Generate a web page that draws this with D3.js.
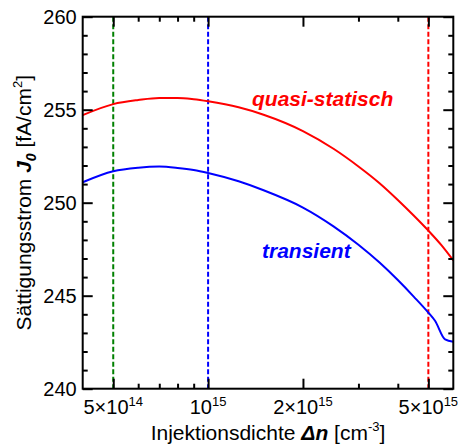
<!DOCTYPE html>
<html>
<head>
<meta charset="utf-8">
<script src="https://cdn.jsdelivr.net/npm/d3@7"></script>
<style>
  html, body { margin: 0; padding: 0; background: #fff; }
  svg { display: block; font-family: Arial, "Liberation Sans", sans-serif; }
</style>
</head>
<body>
<script>
// Injection density values (cm^-3) and saturation currents J0 (fA/cm^2)
const quasiDn = [4e14, 5e14, 6e14, 7e14, 8e14, 9e14, 1e15, 1.25e15, 1.5e15, 2e15, 2.5e15, 3e15, 3.5e15, 4e15, 4.5e15, 5e15, 5.5e15, 6e15];
const quasiJ0 = [254.71, 255.30, 255.52, 255.63, 255.63, 255.56, 255.45, 255.13, 254.73, 253.85, 252.90, 251.95, 251.05, 250.15, 249.30, 248.50, 247.72, 246.90];

const transDn = [4e14, 5e14, 6e14, 7e14, 8e14, 9e14, 1e15, 1.25e15, 1.5e15, 2e15, 2.5e15, 3e15, 3.5e15, 4e15, 4.5e15, 5e15, 5.25e15, 5.65e15, 6e15];
const transJ0 = [251.10, 251.69, 251.88, 251.94, 251.87, 251.76, 251.60, 251.15, 250.67, 249.74, 248.73, 247.74, 246.78, 245.84, 244.94, 244.09, 243.65, 242.65, 242.53];

// Marked injection levels
const markerDn = [5e14, 1e15, 5e15];
const markerColors = ["#008000", "#0000ff", "#ff0000"];

// Axis ticks
const xMajor = [5e14, 1e15, 2e15, 5e15];
const xMajorMant = ["5×10", "10", "2×10", "5×10"];
const xMajorExp = ["14", "15", "15", "15"];
const xMinor = [6e14, 7e14, 8e14, 9e14, 3e15, 4e15];
const yMajor = [240, 245, 250, 255, 260];
const yMinor = d3.range(241, 260).filter(v => v % 5 !== 0);

const W = 462, H = 447;
const m = { left: 82.7, top: 16.7, right: 8.7, bottom: 58.3 };
const iw = W - m.left - m.right, ih = H - m.top - m.bottom;

const svg = d3.select("body").append("svg").attr("width", W).attr("height", H);
const g = svg.append("g").attr("transform", `translate(${m.left},${m.top})`);

const x = d3.scaleLog().domain([4e14, 6e15]).range([0, iw]);
const y = d3.scaleLinear().domain([240, 260]).range([ih, 0]);

// Dashed vertical markers
g.selectAll("line.marker").data(markerDn).join("line")
  .attr("class", "marker")
  .attr("x1", d => x(d)).attr("x2", d => x(d))
  .attr("y1", 0).attr("y2", ih)
  .attr("stroke", (d, i) => markerColors[i])
  .attr("stroke-width", 2)
  .attr("stroke-dasharray", "5,2.5");

// Curves
const line = d3.line().x(d => x(d[0])).y(d => y(d[1])).curve(d3.curveMonotoneX);
g.append("path").datum(d3.zip(quasiDn, quasiJ0))
  .attr("d", line).attr("fill", "none").attr("stroke", "#ff0000").attr("stroke-width", 2);
g.append("path").datum(d3.zip(transDn, transJ0))
  .attr("d", line).attr("fill", "none").attr("stroke", "#0000ff").attr("stroke-width", 2);

// Axes with inward ticks on all four sides
const axStyle = sel => {
  sel.select(".domain").remove();
  sel.selectAll("line").attr("stroke", "#000").attr("stroke-width", 2);
  sel.selectAll("text").remove();
};
const majLen = 10, minLen = 5;
g.append("g").attr("transform", `translate(0,${ih})`)
  .call(d3.axisBottom(x).tickValues(xMajor).tickSize(-majLen)).call(axStyle);
g.append("g").attr("transform", `translate(0,${ih})`)
  .call(d3.axisBottom(x).tickValues(xMinor).tickSize(-minLen)).call(axStyle);
g.append("g").call(d3.axisTop(x).tickValues(xMajor).tickSize(-majLen)).call(axStyle);
g.append("g").call(d3.axisTop(x).tickValues(xMinor).tickSize(-minLen)).call(axStyle);
g.append("g").call(d3.axisLeft(y).tickValues(yMajor).tickSize(-majLen)).call(axStyle);
g.append("g").call(d3.axisLeft(y).tickValues(yMinor).tickSize(-minLen)).call(axStyle);
g.append("g").attr("transform", `translate(${iw},0)`)
  .call(d3.axisRight(y).tickValues(yMajor).tickSize(-majLen)).call(axStyle);
g.append("g").attr("transform", `translate(${iw},0)`)
  .call(d3.axisRight(y).tickValues(yMinor).tickSize(-minLen)).call(axStyle);

// Frame
g.append("rect").attr("width", iw).attr("height", ih)
  .attr("fill", "none").attr("stroke", "#000").attr("stroke-width", 2);

// Y tick labels
g.selectAll("text.ylab").data(yMajor).join("text")
  .attr("class", "ylab")
  .attr("x", -6).attr("y", d => y(d)).attr("dy", "0.36em")
  .attr("text-anchor", "end").attr("font-size", 20)
  .text(d => d);

// X tick labels with exponents
xMajor.forEach((v, i) => {
  const t = g.append("text")
    .attr("x", x(v)).attr("y", ih + 25)
    .attr("text-anchor", "middle").attr("font-size", 20);
  t.append("tspan").text(xMajorMant[i]);
  t.append("tspan").attr("font-size", 13).attr("dy", -8).text(xMajorExp[i]);
});

// X axis title
const xt = svg.append("text")
  .attr("x", m.left + iw / 2).attr("y", 440)
  .attr("text-anchor", "middle").attr("font-size", 21);
xt.append("tspan").text("Injektionsdichte ");
xt.append("tspan").attr("font-weight", "bold").attr("font-style", "italic").text("Δn");
xt.append("tspan").text(" [cm");
xt.append("tspan").attr("font-size", 13).attr("dy", -9).text("-3");
xt.append("tspan").attr("dy", 9).text("]");

// Y axis title
const yt = svg.append("text")
  .attr("transform", `translate(31,${m.top + ih / 2}) rotate(-90)`)
  .attr("text-anchor", "middle").attr("font-size", 21);
yt.append("tspan").text("Sättigungsstrom ");
yt.append("tspan").attr("font-weight", "bold").attr("font-style", "italic").text("J");
yt.append("tspan").attr("font-weight", "bold").attr("font-style", "italic")
  .attr("font-size", 14).attr("dy", 5).text("0");
yt.append("tspan").attr("dy", -5).text(" [fA/cm");
yt.append("tspan").attr("font-size", 13).attr("dy", -9).text("2");
yt.append("tspan").attr("dy", 9).text("]");

// Series annotations
svg.append("text").attr("x", 252).attr("y", 106)
  .attr("font-size", 21).attr("font-weight", "bold").attr("font-style", "italic")
  .attr("fill", "#ff0000").text("quasi-statisch");
svg.append("text").attr("x", 262).attr("y", 258)
  .attr("font-size", 21).attr("font-weight", "bold").attr("font-style", "italic")
  .attr("fill", "#0000ff").text("transient");
</script>
</body>
</html>
